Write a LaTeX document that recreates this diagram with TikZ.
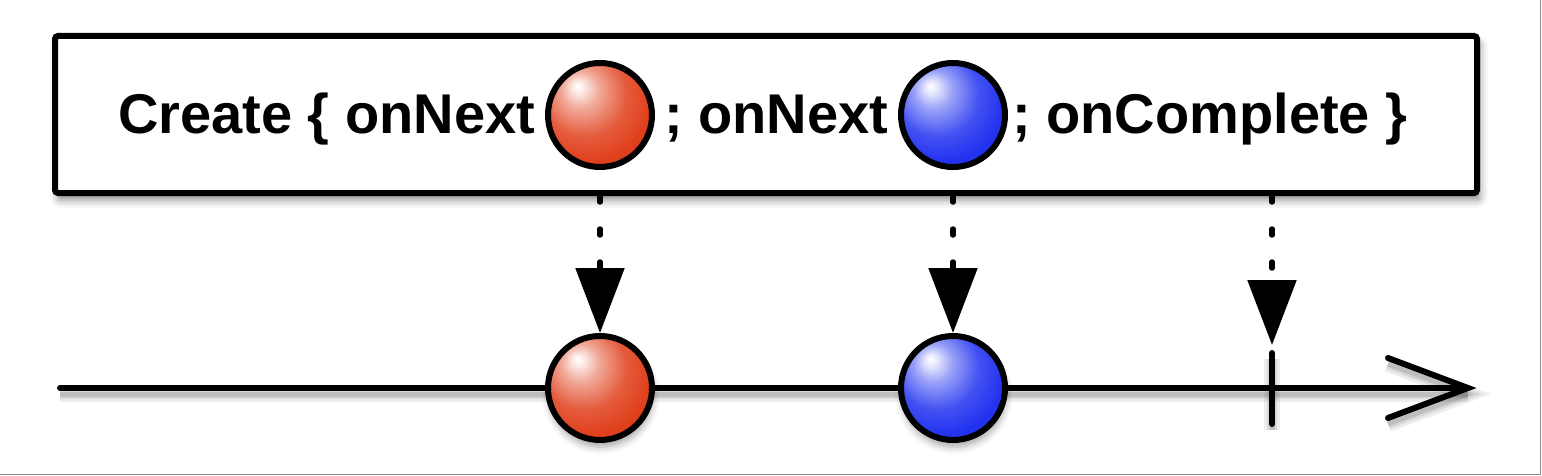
\documentclass[tikz,border=0pt]{standalone}
\usepackage{fontspec}
\setmainfont{Liberation Sans}
\usetikzlibrary{arrows.meta,shadows.blur,calc}
\definecolor{redball}{RGB}{224,64,28}
\definecolor{blueball}{RGB}{34,51,240}
\definecolor{framegray}{RGB}{140,140,140}
\pgfdeclareradialshading{redsphere}{\pgfpoint{-11bp}{14bp}}{%
  color(0bp)=(white); color(3bp)=(white!88!redball); color(9bp)=(redball!45!white);
  color(20bp)=(redball!85!white); color(30bp)=(redball); color(48bp)=(redball!88!black);
  color(66bp)=(redball!55!black)}
\pgfdeclareradialshading{bluesphere}{\pgfpoint{-11bp}{14bp}}{%
  color(0bp)=(white); color(3bp)=(white!88!blueball); color(9bp)=(blueball!45!white);
  color(20bp)=(blueball!85!white); color(30bp)=(blueball); color(48bp)=(blueball!88!black);
  color(66bp)=(blueball!55!black)}
\tikzset{
  ballbase/.style={circle,draw=black,line width=6pt,minimum size=104pt,inner sep=0pt},
  ball/.style={ballbase,shading=#1},
  dropball/.style={ballbase,shading=#1,
    blur shadow={shadow xshift=1pt,shadow yshift=-7pt,shadow blur radius=7pt,shadow opacity=35}},
  lbl/.style={font=\fontsize{56}{60}\selectfont\bfseries,inner sep=0pt,anchor=base west},
  emit/.style={line width=5.5pt,line cap=round,dash pattern=on 6pt off 27pt,
    -{Triangle[width=48pt,length=65pt]}},
  lineshadow/.style={
    preaction={draw=black,opacity=0.07,line width=16pt,transform canvas={yshift=-6pt}},
    preaction={draw=black,opacity=0.09,line width=10pt,transform canvas={yshift=-6pt}},
    preaction={draw=black,opacity=0.12,line width=5pt,transform canvas={yshift=-6pt}}},
  axisline/.style={line width=6pt,line cap=round,lineshadow},
  headbox/.style={draw=black,line width=6pt,rounded corners=3pt,fill=white,
    minimum width=1422pt,minimum height=157pt,inner sep=0pt,
    blur shadow={shadow xshift=3pt,shadow yshift=-7pt,shadow blur radius=8pt,shadow opacity=45}}
}
\begin{document}
\begin{tikzpicture}[x=1pt,y=-1pt]
\useasboundingbox (0,0) rectangle (1542,476);
\draw[framegray,line width=1.5pt] (1540.5,0) -- (1540.5,474.5) -- (0,474.5);

% header box
\node[headbox] (box) at (766,114.5) {};
\node[lbl] (t1) at (118,134) {Create \{ onNext};
\node[ball=redsphere] (rt) at (600,115) {};
\node[lbl] (t2) at (664,134) {; onNext};
\node[ball=bluesphere] (bt) at (953,115) {};
\node[lbl] (t3) at (1012,134) {; onComplete \}};

% timeline
\coordinate (tlstart) at (60,388);
\coordinate (tlend) at (1468,388);
\draw[axisline] (tlstart) -- (tlend);
\draw[axisline,line join=miter] ($(tlend)+(-80,-30)$) -- (tlend) -- ($(tlend)+(-80,30)$);

% completion tick
\coordinate (tktop) at (1272,353);
\coordinate (tkbot) at (1272,424);
\coordinate (tkhead) at (1272,345);
\draw[axisline] (tktop) -- (tkbot);

% emitted items
\node[dropball=redsphere] (rb) at (600,388) {};
\node[dropball=bluesphere] (bb) at (953,388) {};

% connectors
\draw[emit] (box.south -| rt) -- (rb.north);
\draw[emit] (box.south -| bt) -- (bb.north);
\draw[emit] (box.south -| tkhead) -- (tkhead);
\end{tikzpicture}
\end{document}
